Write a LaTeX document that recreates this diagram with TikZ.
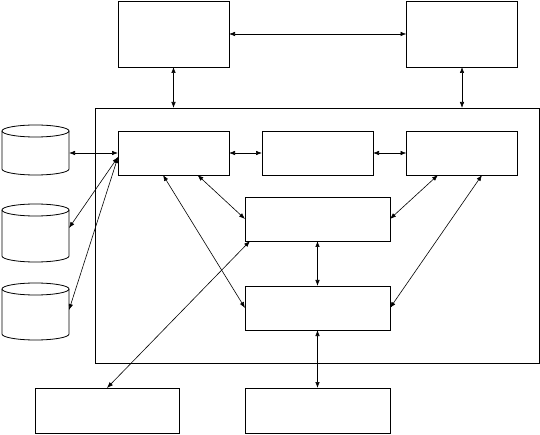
\documentclass[tikz,border=0pt]{standalone}
\usetikzlibrary{arrows.meta,calc}
\begin{document}
\begin{tikzpicture}[x=1pt,y=-1pt,
  box/.style={draw,line width=0.9pt,inner sep=0pt,outer sep=0pt,rectangle},
  holder/.style={inner sep=0pt,outer sep=0pt,minimum width=67pt},
  cyl/.style={line width=0.8pt},
  biarrow/.style={{Latex[length=6pt,width=4.5pt]}-{Latex[length=6pt,width=4.5pt]},line width=0.6pt}]
\useasboundingbox (0,0) rectangle (540,435);
% boxes
\node[box,minimum width=111pt,minimum height=66pt] (t1) at (173.5,34) {};
\node[box,minimum width=111pt,minimum height=66pt] (t2) at (462,34) {};
\node[box,minimum width=444pt,minimum height=255pt] (sys) at (317,235.5) {};
\node[box,minimum width=111pt,minimum height=44pt] (a) at (173.5,153) {};
\node[box,minimum width=111pt,minimum height=44pt] (b) at (317.5,153) {};
\node[box,minimum width=111pt,minimum height=44pt] (c) at (462,153) {};
\node[box,minimum width=145pt,minimum height=44pt] (d) at (317.5,219) {};
\node[box,minimum width=145pt,minimum height=44pt] (e) at (317.5,308) {};
\node[box,minimum width=144pt,minimum height=45pt] (f) at (107,410.5) {};
\node[box,minimum width=145pt,minimum height=45pt] (g) at (317.5,410.5) {};
% cylinders
\node[holder,minimum height=50pt] (cy1) at (35.5,150) {};
\node[holder,minimum height=58pt] (cy2) at (35.5,233) {};
\node[holder,minimum height=57pt] (cy3) at (35.5,311.5) {};
\foreach \t/\b in {131/169,210/256,289/334}{
  \draw[cyl] (35.5,\t) ellipse [x radius=33.5pt,y radius=6pt];
  \draw[cyl] (2,\t) -- (2,\b) arc[start angle=180,end angle=360,x radius=33.5pt,y radius=6pt] -- (69,\t);
}
% connectors
\draw[biarrow] (t1.east) -- (t2.west);
\draw[biarrow] (t1.south) -- (t1.south |- sys.north);
\draw[biarrow] (t2.south) -- (t2.south |- sys.north);
\draw[biarrow] (a.west -| cy1.east) -- (a.west);
\coordinate (ain) at ($(a.west)+(0,4)$);
\draw[biarrow] (ain) -- ($(cy2.east)+(0,-5)$);
\draw[biarrow] (ain) -- ($(cy3.east)+(0,-1.5)$);
\draw[biarrow] (a.east) -- (b.west);
\draw[biarrow] (b.east) -- (c.west);
\draw[biarrow] ($(a.south)+(24,0)$) -- (d.west);
\draw[biarrow] ($(a.south)+(-10.5,0)$) -- (e.west);
\draw[biarrow] ($(c.south)+(-24,0)$) -- (d.east);
\draw[biarrow] ($(c.south)+(20,0)$) -- (e.east);
\draw[biarrow] (d.south) -- (e.north);
\draw[biarrow] ($(d.south west)+(5,0)$) -- (f.north);
\draw[biarrow] (e.south) -- (g.north);
\end{tikzpicture}
\end{document}
